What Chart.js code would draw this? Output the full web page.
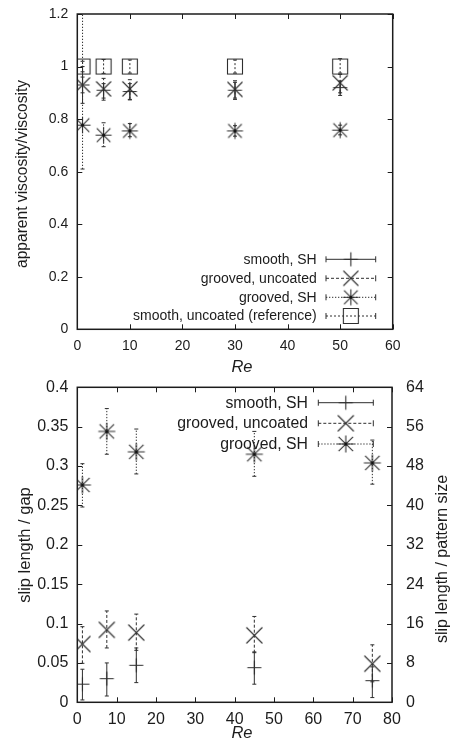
<!DOCTYPE html>
<html>
<head>
<meta charset="utf-8">
<title>apparent viscosity and slip length vs Re</title>
<script src="https://cdn.jsdelivr.net/npm/chart.js@4.4.0/dist/chart.umd.min.js"></script>
<style>
  body { margin: 0; background: #fff; }
  canvas { position: absolute; left: 0; }
  #topChart { top: 0; }
  #botChart { top: 376px; }
</style>
</head>
<body>
<canvas id="topChart" width="451" height="376"></canvas>
<canvas id="botChart" width="451" height="373"></canvas>
<script>
/* ---------- data ---------- */

// top panel: apparent viscosity / viscosity
const reTop = [1, 5, 10, 30, 50];
const viscSmoothSH     = [0.93, 0.91, 0.905, 0.91, 0.92];
const viscSmoothSHLo   = [0.86, 0.88, 0.875, 0.88, 0.89];
const viscSmoothSHHi   = [1.00, 0.935, 0.935, 0.94, 0.945];
const viscGroovedUnc   = [0.93, 0.915, 0.915, 0.913, 0.938];
const viscGroovedUncLo = [0.90, 0.872, 0.873, 0.875, 0.90];
const viscGroovedUncHi = [0.96, 0.955, 0.95, 0.946, 0.97];
const viscGroovedSH    = [0.777, 0.739, 0.755, 0.755, 0.758];
const viscGroovedSHLo  = [0.61, 0.695, 0.733, 0.735, 0.74];
const viscGroovedSHHi  = [1.25, 0.786, 0.783, 0.775, 0.777];
const viscRef          = [1, 1, 1, 1, 1];
const viscRefLo        = [0.98, 0.974, 0.975, 0.975, 0.975];
const viscRefHi        = [1.02, 1.027, 1.025, 1.025, 1.03];

// bottom panel: slip length / gap
const reBot = [1.3, 7.5, 15, 45, 75];
const slipSmoothSH     = [0.023, 0.030, 0.047, 0.044, 0.0275];
const slipSmoothSHLo   = [0.003, 0.008, 0.025, 0.023, 0.006];
const slipSmoothSHHi   = [0.042, 0.050, 0.069, 0.064, 0.045];
const slipGroovedUnc   = [0.074, 0.092, 0.0885, 0.085, 0.049];
const slipGroovedUncLo = [0.0495, 0.069, 0.066, 0.063, 0.026];
const slipGroovedUncHi = [0.096, 0.116, 0.112, 0.109, 0.073];
const slipGroovedSH    = [0.276, 0.344, 0.318, 0.315, 0.304];
const slipGroovedSHLo  = [0.248, 0.315, 0.290, 0.287, 0.277];
const slipGroovedSHHi  = [0.303, 0.373, 0.347, 0.344, 0.333];

// axis ticks
const topXTicks = [0, 10, 20, 30, 40, 50, 60];
const topYTicks = [0, 0.2, 0.4, 0.6, 0.8, 1, 1.2];
const botXTicks = [0, 10, 20, 30, 40, 50, 60, 70, 80];
const botYTicks = [0, 0.05, 0.1, 0.15, 0.2, 0.25, 0.3, 0.35, 0.4];
const botY2Ticks = [0, 8, 16, 24, 32, 40, 48, 56, 64];

const labelsTop = ['smooth, SH', 'grooved, uncoated', 'grooved, SH', 'smooth, uncoated (reference)'];
const labelsBot = ['smooth, SH', 'grooved, uncoated', 'grooved, SH'];

/* ---------- look ---------- */
const ink = '#1c1c1c';
const lineInk = '#2e2e2e';
const fontFam = '"Liberation Sans", Arial, Helvetica, sans-serif';
Chart.defaults.font.family = fontFam;
Chart.defaults.font.size = 14;
Chart.defaults.color = ink;

const dashes = { smooth: [], unc: [3, 2], gsh: [1.3, 1.7], ref: [2, 2] };

// gnuplot-like point symbols
function marker(kind, s) {
  const pad = 2, n = Math.ceil(2 * s) + 2 * pad + 1;
  const c = document.createElement('canvas');
  c.width = n; c.height = n;
  const g = c.getContext('2d');
  const m = n / 2;
  g.strokeStyle = lineInk; g.lineWidth = 1.1;
  g.beginPath();
  if (kind === 'plus' || kind === 'star') {
    g.moveTo(m - s, m); g.lineTo(m + s, m);
    g.moveTo(m, m - s); g.lineTo(m, m + s);
  }
  if (kind === 'x' || kind === 'star') {
    const d = kind === 'star' ? s * 0.85 : s;
    g.moveTo(m - d, m - d); g.lineTo(m + d, m + d);
    g.moveTo(m - d, m + d); g.lineTo(m + d, m - d);
  }
  if (kind === 'box') g.rect(m - s, m - s, 2 * s, 2 * s);
  g.stroke();
  if (kind === 'star') { g.fillStyle = '#111'; g.beginPath(); g.arc(m, m, 1.6, 0, Math.PI * 2); g.fill(); }
  return c;
}

const mkTop = { plus: marker('plus', 7), x: marker('x', 7.5), star: marker('star', 8), box: marker('box', 7.5) };
const mkBot = { plus: marker('plus', 7), x: marker('x', 8), star: marker('star', 8.5) };

const pts = (xs, ys) => xs.map((x, i) => ({ x, y: ys[i] }));
const fmt = v => String(+v.toFixed(2));

function ds(label, xs, ys, img) {
  return { label, data: pts(xs, ys), pointStyle: img, pointRadius: 8, showLine: false };
}

// error bars, frame, inward ticks, titles and key drawn the gnuplot way
function gnuplotLook(cfg) {
  return {
    id: 'gnuplotLook',
    beforeDatasetsDraw(chart) {
      const { ctx, chartArea: a, scales } = chart;
      ctx.save();
      ctx.beginPath(); ctx.rect(a.left, a.top, a.right - a.left, a.bottom - a.top); ctx.clip();
      ctx.strokeStyle = lineInk; ctx.lineWidth = 1;
      cfg.errors.forEach(e => {
        ctx.setLineDash(e.dash);
        e.xs.forEach((xv, i) => {
          const px = scales.x.getPixelForValue(xv);
          const lo = scales.y.getPixelForValue(e.lo[i]);
          const hi = scales.y.getPixelForValue(e.hi[i]);
          ctx.beginPath(); ctx.moveTo(px, lo); ctx.lineTo(px, hi); ctx.stroke();
          ctx.setLineDash([]);
          ctx.beginPath();
          ctx.moveTo(px - 2, lo); ctx.lineTo(px + 2, lo);
          ctx.moveTo(px - 2, hi); ctx.lineTo(px + 2, hi);
          ctx.stroke();
          ctx.setLineDash(e.dash);
        });
      });
      ctx.restore();
    },
    afterDraw(chart) {
      const { ctx, chartArea: a, scales } = chart;
      ctx.save();
      // inward ticks
      ctx.strokeStyle = ink; ctx.lineWidth = 1;
      const tl = 5;
      cfg.xTicks.forEach(v => {
        const p = Math.round(scales.x.getPixelForValue(v)) + 0.5;
        ctx.beginPath();
        ctx.moveTo(p, a.bottom); ctx.lineTo(p, a.bottom - tl);
        ctx.moveTo(p, a.top); ctx.lineTo(p, a.top + tl);
        ctx.stroke();
      });
      cfg.yTicks.forEach(v => {
        const p = Math.round(scales.y.getPixelForValue(v)) + 0.5;
        ctx.beginPath();
        ctx.moveTo(a.left, p); ctx.lineTo(a.left + tl, p);
        if (!cfg.y2Ticks) { ctx.moveTo(a.right, p); ctx.lineTo(a.right - tl, p); }
        ctx.stroke();
      });
      (cfg.y2Ticks || []).forEach(v => {
        const p = Math.round(scales.y2.getPixelForValue(v)) + 0.5;
        ctx.beginPath(); ctx.moveTo(a.right, p); ctx.lineTo(a.right - tl, p); ctx.stroke();
      });
      // frame
      ctx.lineWidth = 1.5; ctx.strokeStyle = ink;
      ctx.strokeRect(a.left, a.top, a.right - a.left, a.bottom - a.top);

      // axis titles
      ctx.fillStyle = ink; ctx.textAlign = 'center'; ctx.textBaseline = 'middle';
      cfg.titles.forEach(t => {
        ctx.save();
        ctx.translate(t.x, t.y);
        if (t.rot) ctx.rotate(t.rot);
        ctx.font = (t.italic ? 'italic ' : '') + t.size + 'px ' + fontFam;
        ctx.fillText(t.text, 0, 0);
        ctx.restore();
      });

      // key
      const k = cfg.key;
      ctx.font = k.size + 'px ' + fontFam;
      ctx.textAlign = 'right';
      k.items.forEach((it, i) => {
        const y = k.rows[i];
        ctx.fillStyle = ink;
        ctx.fillText(it.label, k.textRight, y + 0.5);
        ctx.strokeStyle = lineInk; ctx.lineWidth = 1;
        ctx.setLineDash(it.dash);
        ctx.beginPath(); ctx.moveTo(k.x1, y); ctx.lineTo(k.x2, y); ctx.stroke();
        ctx.setLineDash([]);
        ctx.beginPath();
        ctx.moveTo(k.x1, y - 3); ctx.lineTo(k.x1, y + 3);
        ctx.moveTo(k.x2, y - 3); ctx.lineTo(k.x2, y + 3);
        ctx.stroke();
        const img = it.img;
        ctx.drawImage(img, (k.x1 + k.x2) / 2 - img.width / 2, y - img.height / 2);
      });
      ctx.restore();
    }
  };
}

// fixed scale sizes; label overhang must not move the plot frame
function axisX(min, max, height, size, pad) {
  return {
    type: 'linear', min, max,
    grid: { display: false, drawTicks: false }, border: { display: false },
    ticks: { stepSize: 10, padding: pad, color: ink, callback: fmt, maxRotation: 0, font: { size } },
    afterFit: s => { s.height = height; s.paddingLeft = 0; s.paddingRight = 0; }
  };
}
function axisY(min, max, step, width, position, pad, size) {
  return {
    type: 'linear', min, max, position,
    grid: { display: false, drawTicks: false }, border: { display: false },
    ticks: { stepSize: step, padding: pad, color: ink, callback: fmt, font: { size } },
    afterFit: s => { s.width = width; s.paddingTop = 0; s.paddingBottom = 0; }
  };
}

/* ---------- top panel ---------- */
new Chart(document.getElementById('topChart'), {
  type: 'scatter',
  data: {
    datasets: [
      ds(labelsTop[0], reTop, viscSmoothSH, mkTop.plus),
      ds(labelsTop[1], reTop, viscGroovedUnc, mkTop.x),
      ds(labelsTop[2], reTop, viscGroovedSH, mkTop.star),
      ds(labelsTop[3], reTop, viscRef, mkTop.box)
    ]
  },
  options: {
    responsive: false, animation: false, devicePixelRatio: 1,
    layout: { padding: { top: 14, right: 58.3, left: 0, bottom: 0 } },
    plugins: { legend: { display: false }, tooltip: { enabled: false } },
    scales: {
      x: axisX(0, 60, 46.7, 14, 8),
      y: axisY(0, 1.2, 0.2, 77.3, 'left', 9, 14)
    }
  },
  plugins: [gnuplotLook({
    errors: [
      { xs: reTop, lo: viscRefLo, hi: viscRefHi, dash: dashes.ref },
      { xs: reTop, lo: viscGroovedSHLo, hi: viscGroovedSHHi, dash: dashes.gsh },
      { xs: reTop, lo: viscGroovedUncLo, hi: viscGroovedUncHi, dash: dashes.unc },
      { xs: reTop, lo: viscSmoothSHLo, hi: viscSmoothSHHi, dash: dashes.smooth }
    ],
    xTicks: topXTicks, yTicks: topYTicks,
    titles: [
      { text: 'apparent viscosity/viscosity', x: 23, y: 174, rot: -Math.PI / 2, size: 15.6 },
      { text: 'Re', x: 242, y: 367, italic: true, size: 16.5 }
    ],
    key: {
      size: 14, textRight: 316.7, x1: 326, x2: 375.7, rows: [259.3, 278.3, 297.3, 316],
      items: [
        { label: labelsTop[0], dash: dashes.smooth, img: mkTop.plus },
        { label: labelsTop[1], dash: dashes.unc, img: mkTop.x },
        { label: labelsTop[2], dash: dashes.gsh, img: mkTop.star },
        { label: labelsTop[3], dash: dashes.ref, img: mkTop.box }
      ]
    }
  })]
});

/* ---------- bottom panel ---------- */
new Chart(document.getElementById('botChart'), {
  type: 'scatter',
  data: {
    datasets: [
      ds(labelsBot[0], reBot, slipSmoothSH, mkBot.plus),
      ds(labelsBot[1], reBot, slipGroovedUnc, mkBot.x),
      ds(labelsBot[2], reBot, slipGroovedSH, mkBot.star)
    ]
  },
  options: {
    responsive: false, animation: false, devicePixelRatio: 1,
    layout: { padding: { top: 11.3, right: 0, left: 0, bottom: 0 } },
    plugins: { legend: { display: false }, tooltip: { enabled: false } },
    scales: {
      x: axisX(0, 80, 46.7, 16, 8),
      y: axisY(0, 0.4, 0.05, 77.3, 'left', 9, 16),
      y2: axisY(0, 64, 8, 59, 'right', 14, 16)
    }
  },
  plugins: [gnuplotLook({
    errors: [
      { xs: reBot, lo: slipGroovedSHLo, hi: slipGroovedSHHi, dash: dashes.gsh },
      { xs: reBot, lo: slipGroovedUncLo, hi: slipGroovedUncHi, dash: dashes.unc },
      { xs: reBot, lo: slipSmoothSHLo, hi: slipSmoothSHHi, dash: dashes.smooth }
    ],
    xTicks: botXTicks, yTicks: botYTicks, y2Ticks: botY2Ticks,
    titles: [
      { text: 'slip length / gap', x: 25, y: 169, rot: -Math.PI / 2, size: 16.5 },
      { text: 'slip length / pattern size', x: 443, y: 183, rot: -Math.PI / 2, size: 16 },
      { text: 'Re', x: 242, y: 357, italic: true, size: 16.5 }
    ],
    key: {
      size: 15.8, textRight: 308, x1: 318.3, x2: 373.3, rows: [26.7, 47.3, 68],
      items: [
        { label: labelsBot[0], dash: dashes.smooth, img: mkBot.plus },
        { label: labelsBot[1], dash: dashes.unc, img: mkBot.x },
        { label: labelsBot[2], dash: dashes.gsh, img: mkBot.star }
      ]
    }
  })]
});
</script>
</body>
</html>
